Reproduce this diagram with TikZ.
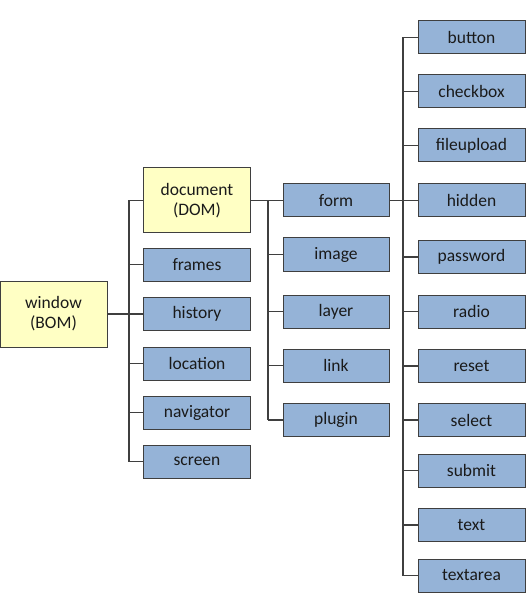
\documentclass[tikz,border=0pt]{standalone}
\usepackage{fontspec}
\setmainfont{Carlito}
\definecolor{boxblue}{HTML}{95B3D7}
\definecolor{boxyellow}{HTML}{FFFFC4}
\definecolor{edgegray}{HTML}{3F3F3F}
\definecolor{txt}{HTML}{1A1A1A}
\begin{document}
\begin{tikzpicture}[x=1pt,y=-1pt,
  base/.style={draw=edgegray,line width=1pt,inner sep=0pt,minimum width=107pt,minimum height=33pt,
    font=\fontsize{17.5}{20}\selectfont,text=txt,align=center},
  bluebox/.style={base,fill=boxblue},
  yellowbox/.style={base,fill=boxyellow,minimum height=65pt},
  link/.style={draw=edgegray,line width=1.1pt}]
\useasboundingbox (0,0) rectangle (526,609);
% left column
\node[yellowbox,minimum height=66pt] (window) at (53.5,314) {window\\(BOM)};
\node[yellowbox] (document) at (197,200.5) {document\\(DOM)};
\node[bluebox] (frames) at (197,264.5) {frames};
\node[bluebox] (history) at (197,314) {history};
\node[bluebox] (location) at (197,363.5) {location};
\node[bluebox] (navigator) at (197,412.5) {navigator};
\node[bluebox] (screen) at (197,461.5) {screen};
% middle column
\node[bluebox,minimum width=106pt] (form) at (336,200.5) {form};
\node[bluebox,minimum width=106pt] (image) at (336,254.5) {image};
\node[bluebox,minimum width=106pt] (layer) at (336,311.5) {layer};
\node[bluebox,minimum width=106pt] (linknode) at (336,365.5) {link};
\node[bluebox,minimum width=106pt] (plugin) at (336,420) {plugin};
% right column
\node[bluebox] (button) at (471.5,37.5) {button};
\node[bluebox] (checkbox) at (471.5,91.5) {checkbox};
\node[bluebox] (fileupload) at (471.5,145.5) {fileupload};
\node[bluebox] (hidden) at (471.5,200.5) {hidden};
\node[bluebox] (password) at (471.5,257) {password};
\node[bluebox] (radio) at (471.5,311.5) {radio};
\node[bluebox] (reset) at (471.5,366) {reset};
\node[bluebox] (select) at (471.5,420) {select};
\node[bluebox] (submit) at (471.5,470.5) {submit};
\node[bluebox] (text) at (471.5,525) {text};
\node[bluebox] (textarea) at (471.5,575.5) {textarea};
% bus coordinates
\coordinate (busL) at (129,0);
\coordinate (busM) at (268,0);
\coordinate (busR) at (403,0);
% left bus
\draw[link] (document.west -| busL) -- (screen.west -| busL);
\draw[link] (window.east) -- (window.east -| busL);
\foreach \n in {document,frames,history,location,navigator,screen}
  \draw[link] (\n.west) -- (\n.west -| busL);
% middle bus
\draw[link] (document.east) -- (form.west);
\draw[link] (form.west -| busM) -- (plugin.west -| busM);
\foreach \n in {image,layer,linknode,plugin}
  \draw[link] (\n.west) -- (\n.west -| busM);
% right bus
\draw[link] (button.west -| busR) -- (textarea.west -| busR);
\draw[link] (form.east) -- (hidden.west);
\foreach \n in {button,checkbox,fileupload,password,radio,reset,select,submit,text,textarea}
  \draw[link] (\n.west) -- (\n.west -| busR);
\end{tikzpicture}
\end{document}
